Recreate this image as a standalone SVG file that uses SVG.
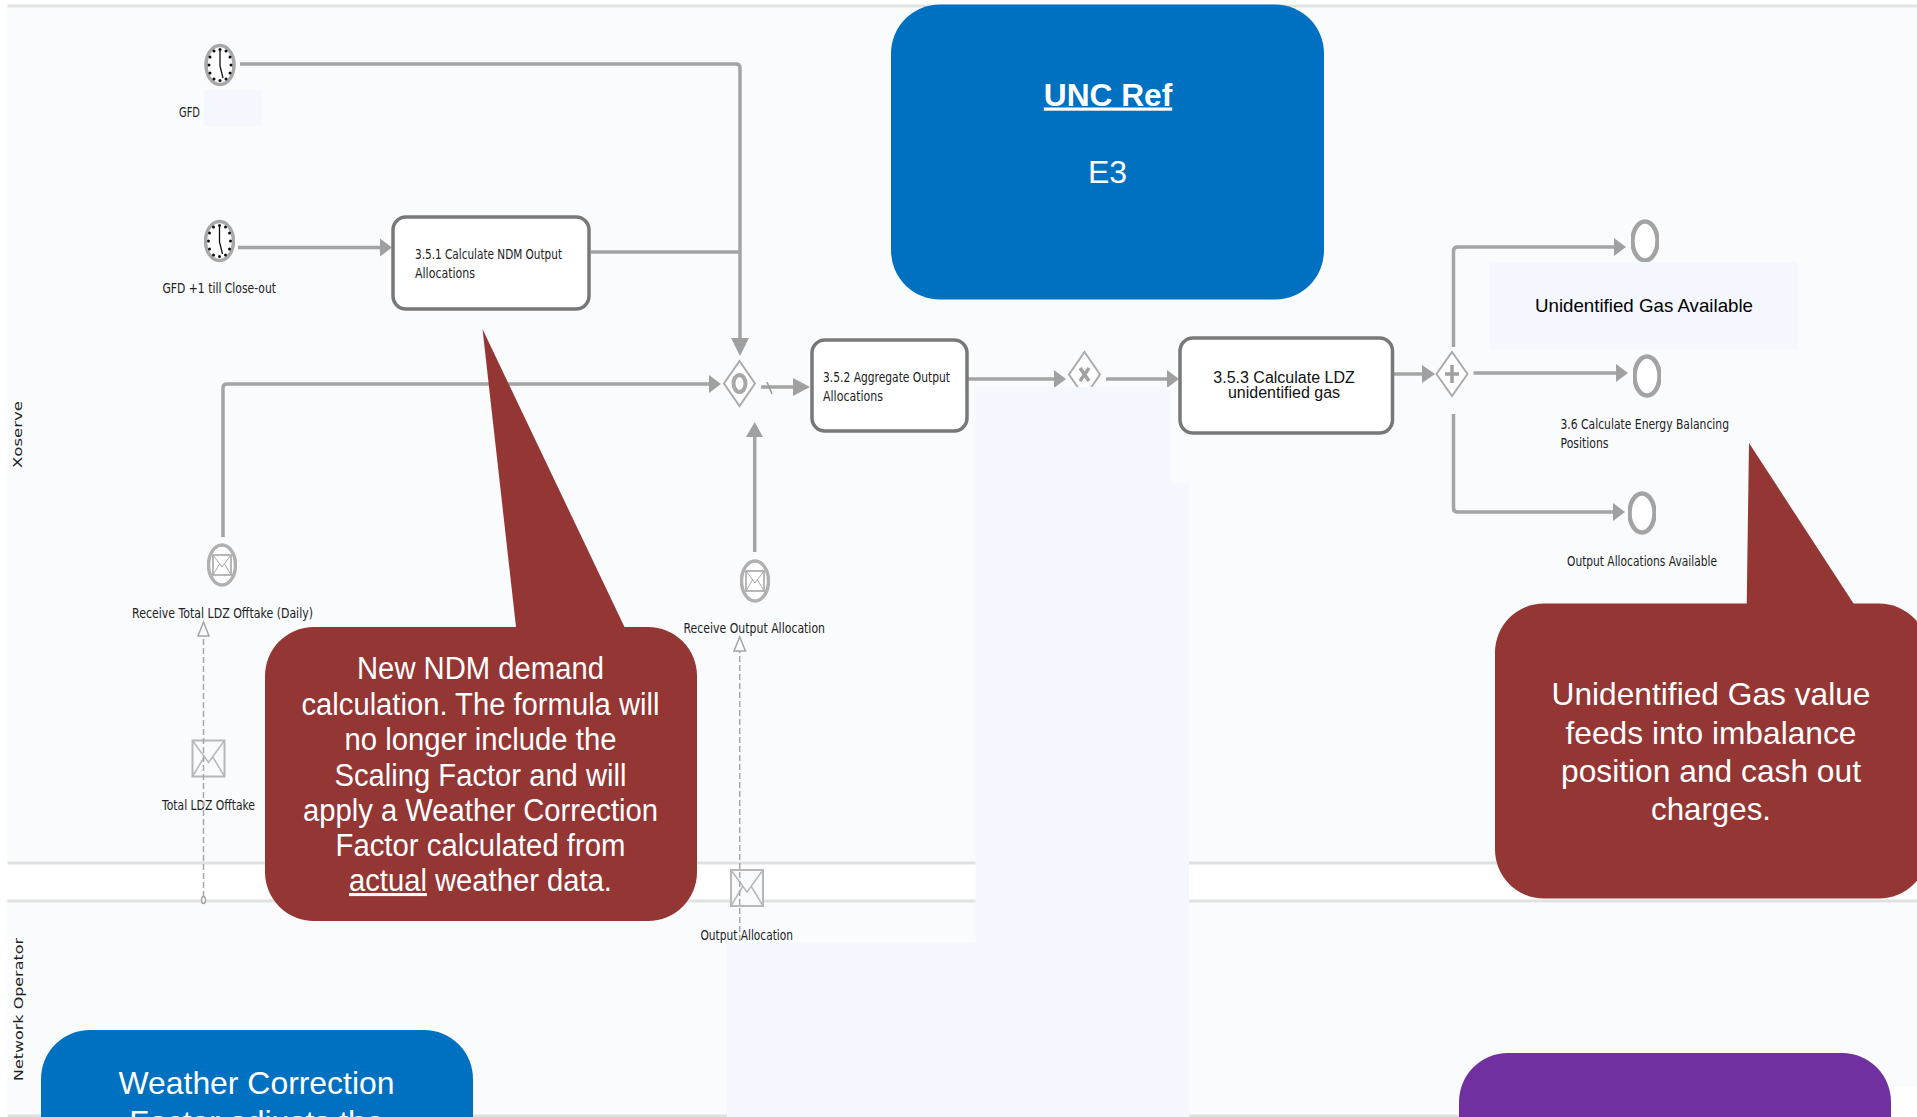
<svg xmlns="http://www.w3.org/2000/svg" xmlns:xlink="http://www.w3.org/1999/xlink" width="1917" height="1117" viewBox="0 0 1917 1117">
<style>
.lane{fill:#f9fbfd}
.lline{stroke:#e0e2e2;stroke-width:3;fill:none}
.patch{fill:#f4f7fe}
.flow{fill:none;stroke:#a4a4a4;stroke-width:3.500;stroke-linejoin:round}
.msg{fill:none;stroke:#a6a6a6;stroke-width:1.500;stroke-dasharray:6 3}
.task{fill:#fff;stroke:#787878;stroke-width:3.500}
.gw{fill:#fff;stroke:#ababab;stroke-width:2}
.ev{fill:#fff;stroke:#a3a3a3;stroke-width:4.500}
.env{fill:#f9fbfd;stroke:#b8b8b8;stroke-width:2}
.head{fill:#a0a0a0}
.lbl{font-family:"DejaVu Sans",sans-serif;font-size:14px;fill:#222}
.sw{font-family:"DejaVu Sans",sans-serif;font-size:12px;fill:#222}
.ar{font-family:"Liberation Sans",Arial,sans-serif}
.w{fill:#fff;text-anchor:middle}
.soft{filter:url(#soft)}
</style>
<defs>
<filter id="soft" x="-5%" y="-5%" width="110%" height="110%"><feGaussianBlur stdDeviation="0.4"/></filter>
<g id="clock">
<ellipse cx="0" cy="0" rx="14" ry="19.500" fill="#fff" stroke="#a8a8a8" stroke-width="3.500"/>
<g fill="#111">
<circle cx="0" cy="-15.500" r="1.500"/><circle cx="6" cy="-14" r="1.500"/><circle cx="10" cy="-8" r="1.500"/><circle cx="11" cy="0" r="1.500"/><circle cx="10" cy="8" r="1.500"/><circle cx="6" cy="14" r="1.500"/><circle cx="0" cy="15.500" r="1.500"/><circle cx="-6" cy="14" r="1.500"/><circle cx="-10" cy="8" r="1.500"/><circle cx="-11" cy="0" r="1.500"/><circle cx="-10" cy="-8" r="1.500"/><circle cx="-6" cy="-14" r="1.500"/>
</g>
<path d="M0 -14V1L3 13" fill="none" stroke="#111" stroke-width="1.300"/>
</g>
<g id="envelope">
<rect x="-16" y="-18" width="32" height="36" class="env"/>
<path d="M-16 -18L0 4L16 -18M-16 18L-4 -2M16 18L4 -2" fill="none" stroke="#b8b8b8" stroke-width="1.500"/>
</g>
<g id="inmsg">
<ellipse cx="0" cy="0" rx="13.500" ry="20" fill="#fff" stroke="#b0b0b0" stroke-width="3.500"/>
<rect x="-9" y="-10" width="18" height="20" fill="#fff" stroke="#a0a0a0" stroke-width="1.500"/>
<path d="M-9 -10L0 2L9 -10M-9 10L-2 -2M9 10L2 -2" fill="none" stroke="#aaa" stroke-width="1"/>
</g>
</defs>

<g id="lanes">
<rect x="7.500" y="6" width="1909.500" height="857" class="lane"/>
<rect x="7.500" y="901" width="1909.500" height="215" class="lane"/>
<rect x="1850" y="1087" width="67" height="30" fill="#fff"/>
<path class="lline" d="M7.500 6H1917M7.500 863H1917M7.500 901H1917M7.500 1116H1860"/>
<text id="lane-xoserve" class="sw" transform="translate(22 468) rotate(-90)" textLength="67" lengthAdjust="spacingAndGlyphs">Xoserve</text>
<text id="lane-network" class="sw" transform="translate(22.500 1081) rotate(-90)" textLength="143" lengthAdjust="spacingAndGlyphs">Network Operator</text>
</g>

<g id="connectors" class="soft">
<path class="flow" d="M240 64H736Q740 64 740 68V340"/>
<path class="head" d="M731 338H749L740 356Z"/>
<path class="flow" d="M238 247.500H382"/>
<path class="head" d="M380 238.500L392 247.500L380 256.500Z"/>
<path class="flow" d="M591 252H740"/>
<path class="flow" d="M223 537V388Q223 384 227 384H711"/>
<path class="head" d="M709 375L721 384L709 393Z"/>
<path class="flow" d="M761 387H795"/>
<path class="head" d="M793 378L810 387L793 396Z"/>
<path d="M767 382L772 394" stroke="#999" stroke-width="1.500" fill="none"/>
<path class="flow" d="M754.700 552V435"/>
<path class="head" d="M746 437H763L754.700 422Z"/>
<path class="flow" d="M968 379H1057"/>
<path class="head" d="M1054 370L1066 379L1054 388Z"/>
<path class="flow" d="M1106 379H1169"/>
<path class="head" d="M1167 370L1179 379L1167 388Z"/>
<path class="flow" d="M1394 374H1424"/>
<path class="head" d="M1422 365L1435 374L1422 383Z"/>
<path class="flow" d="M1453.500 347V251Q1453.500 247 1457.500 247H1616"/>
<path class="head" d="M1614 238L1626 247L1614 256Z"/>
<path class="flow" d="M1473.500 373H1618"/>
<path class="head" d="M1616 364L1628 373L1616 382Z"/>
<path class="flow" d="M1453.500 414V508Q1453.500 512 1457.500 512H1615"/>
<path class="head" d="M1613 503L1625 512L1613 521Z"/>
</g>

<g id="gfd"><use class="soft" xlink:href="#clock" href="#clock" x="220" y="65"/><text class="lbl" x="179" y="117" textLength="21" lengthAdjust="spacingAndGlyphs">GFD</text></g>
<g id="gfd-close"><use class="soft" xlink:href="#clock" href="#clock" x="219.500" y="241"/><text class="lbl" x="162.500" y="293" textLength="113.500" lengthAdjust="spacingAndGlyphs">GFD +1 till Close-out</text></g>

<g id="task-351"><rect class="task soft" x="393" y="217" width="196" height="92" rx="13"/>
<text class="lbl" x="415" y="259" textLength="147" lengthAdjust="spacingAndGlyphs">3.5.1 Calculate NDM Output</text>
<text class="lbl" x="415" y="278" textLength="60" lengthAdjust="spacingAndGlyphs">Allocations</text></g>

<g id="gateway-1" class="soft"><path class="gw" d="M739.500 361L755 383.500L739.500 406L724 383.500Z"/><ellipse cx="739.500" cy="383.500" rx="6" ry="8.500" fill="none" stroke="#a8a8a8" stroke-width="4"/></g>

<g id="task-352"><rect class="task soft" x="812" y="340" width="155" height="91" rx="13"/>
<text class="lbl" x="823" y="382" textLength="127" lengthAdjust="spacingAndGlyphs">3.5.2 Aggregate Output</text>
<text class="lbl" x="823" y="401" textLength="60" lengthAdjust="spacingAndGlyphs">Allocations</text></g>

<g id="gateway-2" class="soft"><path class="gw" d="M1084.500 352L1100 374.500L1084.500 397L1069 374.500Z"/><path d="M1080 368L1089 381M1089 368L1080 381" stroke="#a0a0a0" stroke-width="3.500" fill="none"/></g>

<g id="task-353"><rect class="task soft" x="1180" y="338" width="212.500" height="95" rx="13"/>
<text class="ar" x="1284" y="383" font-size="16" text-anchor="middle" fill="#111">3.5.3 Calculate LDZ</text>
<text class="ar" x="1284" y="398" font-size="16" text-anchor="middle" fill="#111">unidentified gas</text></g>

<g id="gateway-3" class="soft"><path class="gw" d="M1452 352L1467.500 374L1452 396L1436.500 374Z"/><path d="M1452 365V383M1445 374H1459" stroke="#a0a0a0" stroke-width="3.500" fill="none"/></g>

<g id="end-1"><ellipse class="ev soft" cx="1645" cy="241" rx="12.500" ry="19.500"/></g>
<g id="end-2"><ellipse class="ev soft" cx="1647" cy="376" rx="12.500" ry="19.500"/>
<text class="lbl" x="1560.500" y="429" textLength="168.500" lengthAdjust="spacingAndGlyphs">3.6 Calculate Energy Balancing</text>
<text class="lbl" x="1560.500" y="448" textLength="48" lengthAdjust="spacingAndGlyphs">Positions</text></g>
<g id="end-3"><ellipse class="ev soft" cx="1642" cy="513" rx="12.500" ry="19.500"/>
<text class="lbl" x="1567" y="566" textLength="150" lengthAdjust="spacingAndGlyphs">Output Allocations Available</text></g>

<g id="receive-ldz"><use class="soft" xlink:href="#inmsg" href="#inmsg" x="222" y="565"/>
<text class="lbl" x="132" y="617.500" textLength="181" lengthAdjust="spacingAndGlyphs">Receive Total LDZ Offtake (Daily)</text></g>
<g id="receive-output"><use class="soft" xlink:href="#inmsg" href="#inmsg" x="755" y="581"/>
<text class="lbl" x="683.500" y="633" textLength="141.500" lengthAdjust="spacingAndGlyphs">Receive Output Allocation</text></g>
<g id="total-ldz"><use class="soft" xlink:href="#envelope" href="#envelope" x="208.500" y="758.500"/>
<text class="lbl" x="162" y="810" textLength="93" lengthAdjust="spacingAndGlyphs">Total LDZ Offtake</text></g>
<g id="output-alloc"><use class="soft" xlink:href="#envelope" href="#envelope" x="747" y="888"/>
<text class="lbl" x="700.500" y="940" textLength="92.500" lengthAdjust="spacingAndGlyphs">Output Allocation</text></g>

<g id="message-flows">
<path class="msg" d="M203.500 897V636"/>
<path d="M203.500 622L209 636H198Z" fill="#f9fbfd" stroke="#a6a6a6" stroke-width="1.500"/>
<ellipse cx="203.500" cy="900" rx="2" ry="3.500" fill="#fff" stroke="#a6a6a6" stroke-width="1.500"/>
<path class="msg" d="M739.700 950V651"/>
<path d="M739.700 637L745.500 651H734Z" fill="#f9fbfd" stroke="#a6a6a6" stroke-width="1.500"/>
</g>

<g id="patches">
<rect class="patch" x="204" y="90" width="58" height="36"/>
<path class="patch" d="M975.500 387H1171V483H1189V1117H727V943H975.500Z"/>
<rect class="patch" x="1489" y="262" width="309" height="87"/>
<text class="ar" x="1644" y="312" font-size="18.500" text-anchor="middle" fill="#000" textLength="218" lengthAdjust="spacingAndGlyphs">Unidentified Gas Available</text>
</g>

<g id="unc-ref"><rect x="891" y="4.500" width="433" height="295" rx="49" fill="#0070c0"/>
<text class="ar w" x="1108" y="105.500" font-size="32" font-weight="700" text-decoration="underline" textLength="128.500" lengthAdjust="spacingAndGlyphs">UNC Ref</text>
<text class="ar w" x="1107.500" y="183" font-size="32">E3</text></g>

<g id="note-ndm"><path fill="#943634" d="M482.500 329L516 627H624.500Z"/>
<rect x="265" y="627" width="432" height="294" rx="49" fill="#943634"/>
<g class="ar w" font-size="31">
<text x="480.500" y="679" textLength="247" lengthAdjust="spacingAndGlyphs">New NDM demand</text>
<text x="480.500" y="714.500" textLength="358" lengthAdjust="spacingAndGlyphs">calculation. The formula will</text>
<text x="480.500" y="750" textLength="272" lengthAdjust="spacingAndGlyphs">no longer include the</text>
<text x="480.500" y="786" textLength="292" lengthAdjust="spacingAndGlyphs">Scaling Factor and will</text>
<text x="480.500" y="821" textLength="355" lengthAdjust="spacingAndGlyphs">apply a Weather Correction</text>
<text x="480.500" y="856" textLength="290" lengthAdjust="spacingAndGlyphs">Factor calculated from</text>
<text x="480.500" y="891" textLength="263" lengthAdjust="spacingAndGlyphs"><tspan text-decoration="underline">actual</tspan> weather data.</text>
</g></g>

<g id="note-ug"><path fill="#943634" d="M1749 443L1746.700 605H1854.500Z"/>
<rect x="1495" y="603.500" width="433" height="295" rx="49" fill="#943634"/>
<g class="ar w" font-size="32">
<text x="1711" y="705" textLength="319" lengthAdjust="spacingAndGlyphs">Unidentified Gas value</text>
<text x="1711" y="743.500" textLength="291" lengthAdjust="spacingAndGlyphs">feeds into imbalance</text>
<text x="1711" y="782" textLength="300" lengthAdjust="spacingAndGlyphs">position and cash out</text>
<text x="1711" y="820" textLength="120" lengthAdjust="spacingAndGlyphs">charges.</text>
</g></g>

<g id="note-wcf"><rect x="41" y="1030" width="432" height="295" rx="49" fill="#0070c0"/>
<text class="ar w" x="256.500" y="1094" font-size="32" textLength="276" lengthAdjust="spacingAndGlyphs">Weather Correction</text>
<text class="ar w" x="256.500" y="1133" font-size="32">Factor adjusts the</text></g>

<g id="note-purple"><rect x="1459" y="1053" width="432" height="295" rx="49" fill="#7030a0"/></g>
</svg>
